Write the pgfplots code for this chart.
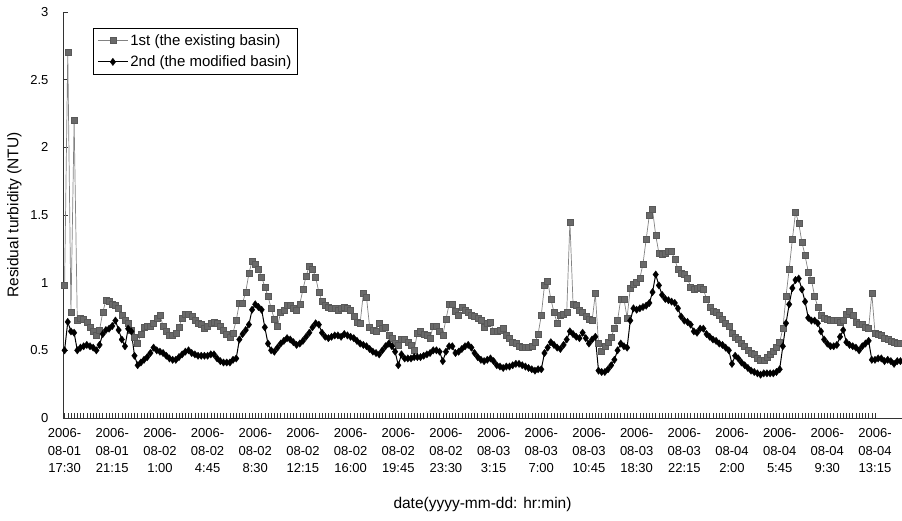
\documentclass[border=0pt]{standalone}
\usepackage{pgfplots}
\pgfplotsset{compat=1.18}
\usepackage{pgfplotstable}
\usepackage{fontspec}
\setmainfont{Liberation Sans}
\definecolor{sqfill}{RGB}{105,105,105}
\definecolor{sqline}{RGB}{130,130,130}
\pgfplotstableread{
i a b
0 0.98 0.50
1 2.70 0.71
2 0.78 0.64
3 2.20 0.63
4 0.72 0.50
5 0.74 0.52
6 0.73 0.53
7 0.71 0.54
8 0.67 0.53
9 0.64 0.52
10 0.61 0.50
11 0.65 0.54
12 0.78 0.62
13 0.87 0.65
14 0.86 0.66
15 0.84 0.68
16 0.83 0.72
17 0.81 0.65
18 0.76 0.58
19 0.72 0.53
20 0.70 0.66
21 0.65 0.64
22 0.60 0.46
23 0.55 0.39
24 0.62 0.41
25 0.67 0.43
26 0.68 0.45
27 0.68 0.48
28 0.70 0.52
29 0.74 0.50
30 0.76 0.49
31 0.68 0.48
32 0.64 0.46
33 0.61 0.44
34 0.61 0.43
35 0.63 0.43
36 0.67 0.45
37 0.74 0.47
38 0.77 0.49
39 0.77 0.50
40 0.75 0.48
41 0.72 0.47
42 0.70 0.46
43 0.69 0.46
44 0.66 0.46
45 0.68 0.46
46 0.70 0.47
47 0.71 0.47
48 0.70 0.44
49 0.68 0.42
50 0.65 0.41
51 0.62 0.41
52 0.60 0.41
53 0.63 0.43
54 0.72 0.44
55 0.85 0.58
56 0.85 0.62
57 0.93 0.65
58 1.07 0.69
59 1.16 0.80
60 1.14 0.84
61 1.10 0.82
62 1.04 0.80
63 0.97 0.67
64 0.90 0.55
65 0.81 0.50
66 0.73 0.49
67 0.68 0.52
68 0.78 0.55
69 0.80 0.57
70 0.83 0.59
71 0.83 0.58
72 0.81 0.56
73 0.80 0.54
74 0.84 0.55
75 0.95 0.57
76 1.05 0.60
77 1.12 0.63
78 1.10 0.67
79 1.04 0.70
80 0.93 0.69
81 0.86 0.63
82 0.83 0.60
83 0.82 0.59
84 0.81 0.60
85 0.81 0.61
86 0.80 0.61
87 0.81 0.60
88 0.82 0.62
89 0.81 0.61
90 0.80 0.60
91 0.75 0.59
92 0.71 0.57
93 0.70 0.55
94 0.92 0.54
95 0.89 0.53
96 0.67 0.51
97 0.65 0.49
98 0.64 0.48
99 0.70 0.47
100 0.66 0.50
101 0.67 0.53
102 0.61 0.55
103 0.59 0.53
104 0.55 0.49
105 0.54 0.39
106 0.58 0.47
107 0.58 0.44
108 0.56 0.44
109 0.54 0.44
110 0.50 0.45
111 0.63 0.45
112 0.64 0.45
113 0.62 0.46
114 0.61 0.47
115 0.59 0.48
116 0.68 0.50
117 0.68 0.50
118 0.64 0.49
119 0.61 0.42
120 0.73 0.49
121 0.84 0.53
122 0.84 0.53
123 0.79 0.48
124 0.76 0.49
125 0.82 0.51
126 0.80 0.53
127 0.78 0.54
128 0.76 0.52
129 0.75 0.48
130 0.74 0.45
131 0.72 0.43
132 0.67 0.42
133 0.70 0.43
134 0.71 0.44
135 0.64 0.42
136 0.64 0.39
137 0.65 0.38
138 0.66 0.37
139 0.61 0.38
140 0.59 0.38
141 0.56 0.39
142 0.55 0.40
143 0.53 0.40
144 0.52 0.39
145 0.52 0.38
146 0.52 0.37
147 0.53 0.36
148 0.56 0.35
149 0.62 0.36
150 0.76 0.36
151 0.98 0.48
152 1.01 0.52
153 0.88 0.56
154 0.78 0.54
155 0.70 0.52
156 0.76 0.51
157 0.77 0.54
158 0.78 0.58
159 1.45 0.64
160 0.84 0.62
161 0.83 0.60
162 0.80 0.59
163 0.78 0.63
164 0.75 0.59
165 0.73 0.55
166 0.72 0.58
167 0.92 0.60
168 0.55 0.35
169 0.49 0.34
170 0.53 0.34
171 0.56 0.36
172 0.60 0.39
173 0.66 0.43
174 0.72 0.50
175 0.88 0.55
176 0.88 0.53
177 0.74 0.52
178 0.96 0.72
179 0.99 0.81
180 1.00 0.80
181 1.03 0.81
182 1.14 0.82
183 1.32 0.83
184 1.50 0.85
185 1.54 0.93
186 1.35 1.06
187 1.22 0.98
188 1.21 0.91
189 1.22 0.88
190 1.23 0.87
191 1.23 0.86
192 1.17 0.85
193 1.10 0.81
194 1.07 0.75
195 1.06 0.72
196 1.03 0.71
197 0.97 0.69
198 0.95 0.64
199 0.96 0.63
200 0.97 0.66
201 0.95 0.66
202 0.88 0.62
203 0.82 0.60
204 0.79 0.58
205 0.78 0.57
206 0.76 0.55
207 0.73 0.54
208 0.70 0.52
209 0.68 0.50
210 0.63 0.40
211 0.60 0.46
212 0.58 0.44
213 0.55 0.41
214 0.53 0.39
215 0.50 0.37
216 0.48 0.35
217 0.47 0.34
218 0.44 0.33
219 0.43 0.32
220 0.43 0.33
221 0.45 0.33
222 0.47 0.33
223 0.49 0.33
224 0.52 0.34
225 0.56 0.36
226 0.66 0.53
227 0.90 0.70
228 1.10 0.84
229 1.32 0.96
230 1.52 1.02
231 1.44 1.03
232 1.30 0.95
233 1.20 0.86
234 1.08 0.74
235 1.02 0.72
236 0.90 0.72
237 0.82 0.70
238 0.76 0.64
239 0.74 0.58
240 0.73 0.55
241 0.72 0.53
242 0.72 0.53
243 0.72 0.54
244 0.71 0.60
245 0.72 0.65
246 0.77 0.56
247 0.79 0.54
248 0.76 0.53
249 0.71 0.52
250 0.69 0.50
251 0.69 0.53
252 0.67 0.55
253 0.66 0.57
254 0.92 0.43
255 0.63 0.43
256 0.62 0.44
257 0.61 0.44
258 0.59 0.42
259 0.58 0.43
260 0.57 0.42
261 0.56 0.40
262 0.55 0.42
263 0.55 0.42
}\data
\begin{document}
\begin{tikzpicture}[x=1pt,y=1pt]
\begin{axis}[
  scale only axis,
  width=839pt, height=406pt,
  xmin=-0.5, xmax=263.5,
  ymin=0, ymax=3,
  axis x line=bottom, axis y line=left,
  axis line style={-, line width=0.8pt, black!80},
  tick align=inside,
  major tick length=5pt, minor tick length=5pt,
  tick style={black!80, line width=0.5pt},
  xtick={0,15,...,255},
  minor x tick num=14,
  xticklabels={{2006-\\08-01\\17:30},{2006-\\08-01\\21:15},{2006-\\08-02\\1:00},{2006-\\08-02\\4:45},{2006-\\08-02\\8:30},{2006-\\08-02\\12:15},{2006-\\08-02\\16:00},{2006-\\08-02\\19:45},{2006-\\08-02\\23:30},{2006-\\08-03\\3:15},{2006-\\08-03\\7:00},{2006-\\08-03\\10:45},{2006-\\08-03\\18:30},{2006-\\08-03\\22:15},{2006-\\08-04\\2:00},{2006-\\08-04\\5:45},{2006-\\08-04\\9:30},{2006-\\08-04\\13:15}},
  xticklabel style={align=center, font=\fontsize{13}{17.5}\selectfont, yshift=-7pt},
  ytick={0,0.5,1,1.5,2,2.5,3},
  yticklabels={0,0.5,1,1.5,2,2.5,3},
  yticklabel style={font=\fontsize{13}{15}\selectfont, xshift=-11pt},
  xlabel={date(yyyy-mm-dd: hr:min)},
  ylabel={Residual turbidity (NTU)},
  label style={font=\fontsize{15.5}{18}\selectfont},
  xlabel style={yshift=-18pt},
  ylabel style={yshift=2pt},
  legend style={at={(0.0358,0.9606)}, anchor=north west, draw=black, line width=0.7pt,
    font=\fontsize{15}{18}\selectfont, row sep=5pt, inner xsep=4pt, inner ysep=4pt},
  legend cell align=left,
  legend image code/.code={\draw[mark repeat=2,mark phase=2] plot coordinates {(0pt,0pt) (15pt,0pt) (30pt,0pt)};},
]
\addplot[color=sqline, line width=0.7pt, mark=square*, mark size=3pt,
  mark options={fill=sqfill, draw=black!65, line width=0.4pt}] table[x=i,y=a]{\data};
\addlegendentry{1st (the existing basin)}
\addplot[color=black, line width=1pt, mark=diamond*, mark size=3.7pt,
  mark options={fill=black, line width=0.3pt}] table[x=i,y=b]{\data};
\addlegendentry{2nd (the modified basin)}
\end{axis}
\pgfresetboundingbox
\path[use as bounding box] (-63pt,-103pt) rectangle (839pt,418pt);
\end{tikzpicture}
\end{document}
